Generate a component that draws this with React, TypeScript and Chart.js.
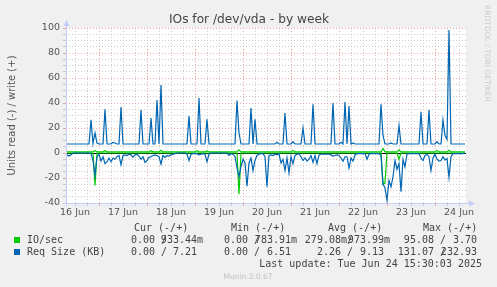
import React, { useEffect, useRef } from 'react';
import { Chart, registerables } from 'chart.js';

Chart.register(...registerables);

// ---------- data ----------
const titleText = 'IOs for /dev/vda - by week';
const yAxisTitle = 'Units read (-) / write (+)';
const dayLabels = ['16 Jun', '17 Jun', '18 Jun', '19 Jun', '20 Jun', '21 Jun', '22 Jun', '23 Jun', '24 Jun'];
// hours counted from 16 Jun 00:00
const rangeStartHour = 7.5;
const rangeEndHour = 207.5;
const firstSampleHour = 8; // hourly samples
const yMin = -40;
const yMax = 100;

// IO/sec, write (+)
const ioWrite = [
  0.9,0.9,0.9,0.9,0.9,0.9,0.9,0.9,0.9,0.9, 0.9,0.9,0.9,0.9,2,0.9,0.9,0.9,0.9,1.8,
  0.9,0.9,0.9,0.9,0.9,0.9,0.9,0.9,0.9,0.9, 0.9,0.9,0.9,0.9,0.9,0.9,0.9,0.9,0.9,0.9,
  0.9,0.9,1.8,0.9,0.9,0.9,0.9,2.2,0.9,0.9, 0.9,0.9,0.9,0.9,0.9,0.9,0.9,0.9,0.9,0.9,
  0.9,0.9,0.9,0.9,0.9,1.8,0.9,0.9,0.9,0.9, 1.6,0.9,0.9,0.9,0.9,0.9,0.9,0.9,0.9,0.9,
  0.9,0.9,0.9,0.9,0.9,0.9,2.5,0.9,0.9,0.9, 0.9,0.9,0.9,0.9,0.9,0.9,0.9,0.9,0.9,0.9,
  0.9,0.9,0.9,0.9,0.9,0.9,0.9,0.9,0.9,0.9, 0.9,0.9,0.9,2,0.9,0.9,0.9,0.9,0.9,0.9,
  0.9,0.9,0.9,0.9,0.9,0.9,0.9,0.9,0.9,0.9, 0.9,0.9,0.9,0.9,0.9,0.9,0.9,0.9,0.9,0.9,
  0.9,0.9,0.9,0.9,0.9,0.9,0.9,0.9,0.9,0.9, 0.9,0.9,0.9,0.9,0.9,0.9,0.9,0.9,3.7,0.9,
  0.9,0.9,0.9,0.9,0.9,0.9,2.5,0.9,0.9,0.9, 0.9,0.9,0.9,0.9,0.9,0.9,0.9,0.9,0.9,0.9,
  0.9,0.9,0.9,0.9,0.9,2,0.9,0.9,0.9,0.9, 0.9,2.2,0.9,0.9,0.9,0.9,0.9,0.9,0.9,0.9,
];
// IO/sec, read (-), magnitudes
const ioRead = [
  0,0,0,0,0,0,0,0,0,0, 0,0,0,0,26,0,0,0,0,0,
  0,0,0,0,0,0,0,0,0,0, 0,0,0,0,0,0,0,0,0,0,
  0,0,0,0,0,0,0,0,0,0, 0,0,0,0,0,0,0,0,0,0,
  0,0,0,0,0,0,0,0,0,0, 0,0,0,0,0,0,0,0,0,0,
  0,0,0,0,0,0,33,0,0,0, 0,0,0,0,0,0,0,0,0,0,
  0,0,0,0,0,0,0,0,0,0, 0,0,0,0,0,0,0,0,0,0,
  0,0,0,0,0,0,0,0,0,0, 0,0,0,0,0,0,0,0,0,0,
  0,0,0,0,0,0,0,0,0,0, 0,0,0,0,0,0,0,0,24.8,24,
  0,0,0,0,0,0,5,0,0,0, 0,0,0,0,0,0,0,0,0,0,
  0,0,0,0,0,0,0,0,0,0, 0,0,0,0,0,0,0,0,0,0,
];
// Req Size (KB), write (+)
const reqWrite = [
  7.2,7.2,7.2,7.2,7.2,7.2,7.2,7.2,7.2,7.2, 7.2,7.2,26.6,7.5,16,8,7.2,7.2,7.2,35,
  7.2,7.2,7.2,8.5,8,7.2,7.2,36.8,7.2,7.2, 7.2,7.2,7.2,7.2,7.2,7.2,7.2,34.4,7.2,7.2,
  7.2,7.2,28,7.2,7.2,42.4,7.2,54.4,7.2,7.2, 7.2,7.2,7.2,7.2,7.2,7.2,7.2,7.2,7.2,7.2,
  7.2,29.6,7.2,7.2,7.2,7.2,44,7.2,7.2,7.2, 27,7.2,7.2,7.2,7.2,7.2,7.2,7.2,7.2,7.2,
  7.2,7.2,7.2,7.2,7.2,42,16,7.2,7.2,7.2, 7.2,7.2,36,7.2,27,7.2,7.2,7.2,7.2,7.2,
  7.2,7.2,7.2,7.2,7.2,8.5,7.2,7.2,7.2,32, 7.2,7.2,7.2,9,7.2,7.2,7.2,7.2,20,7.2,
  7.2,7.2,7.2,39,7.2,7.2,7.2,7.2,7.2,7.2, 7.2,7.2,7.2,40,7.2,7.2,7.2,8.5,7.2,40.8,
  7.2,37.6,7.2,8,7.2,7.2,7.2,7.2,7.2,7.2, 7.2,7.2,7.2,7.2,7.2,7.2,7.2,39,14,7.2,
  7.2,7.2,8,7.2,7.2,7.2,22,7.2,7.2,7.2, 7.2,7.2,7.2,7.2,7.2,7.2,7.2,33,7.2,7.2,
  7.2,34.4,7.2,7.2,7.2,9,7.2,7.2,26.4,14, 11,98.4,7.2,7.2,7.2,7.2,7.2,7.2,7.2,7.2,
];
// Req Size (KB), read (-), magnitudes
const reqRead = [
  1.5,2.5,1.5,0,0,0,0,0,0,0, 0,0,0.5,6,18,3,1,6.4,3,8.5,
  7,4,7,4,5,3,2,9.3,2,1.5, 2,1,1.5,3.5,1.5,1,2.5,5,3,7.5,
  6,3.5,3,2,1.5,2,3,8.8,2,3.5, 2,2.5,1.5,1,0.5,0,0,0,0,0,
  1,6,1,0.5,0.5,0.5,1.5,1,0.5,1, 7,1,0,0,0,0,0,0,0,0,
  0,2,0.5,1,3,12,19,11,5,8, 26.6,8,4,14,6,2,1,0.5,0.5,3,
  27,2,1.5,2,1,1.5,0.5,8,5,14, 4,16,3,8.5,2,1,0.5,3,6,4,
  6.5,5,2,7.5,2,8.5,1.5,1,1,1, 1,1,1.5,2.5,2,1.5,2,4,6.5,3,
  3,12,4,6.5,1.5,0.5,0.5,0.5,0.5,0.5, 5,1,0.5,0.5,0.5,0.5,0.5,2,24.8,28,
  38,22,27,19,6,13,8.5,31,5,11, 1,0.5,0.5,0.5,0.5,0.5,0.5,4,6,2,
  1,3,14,4,1,5,6.5,6,3,5.5, 4.5,19.5,3,0.5,0.5,0.5,0.5,0.5,0.5,0,
];

const legendHeaders = ['Cur (-/+)', 'Min (-/+)', 'Avg (-/+)', 'Max (-/+)'];
const seriesNames = ['IO/sec', 'Req Size (KB)'];
const seriesColors = ['#00cc00', '#0066b3'];
// [read, write] pairs per column (Cur, Min, Avg, Max)
const ioStats = [['0.00 ', '933.44m'], ['0.00 ', '783.91m'], ['279.08m', '973.99m'], ['95.08 ', '3.70 ']];
const reqStats = [['0.00 ', '7.21 '], ['0.00 ', '6.51 '], ['2.26 ', '9.13 '], ['131.07 ', '232.93 ']];
const lastUpdate = 'Last update: Tue Jun 24 15:30:03 2025';
const footer = 'Munin 2.0.67';
const watermark = 'RRDTOOL / TOBI OETIKER';

// ---------- styling ----------
const MINOR = 'rgba(185,185,185,0.75)';
const MAJOR = 'rgba(230,130,130,0.7)';
const AXIS = 'rgb(196,204,250)';
const TEXT = '#555555';
const MONO = '"DejaVu Sans Mono", monospace';

const gridHours: number[] = [];
for (let h = Math.ceil(rangeStartHour / 6) * 6; h <= rangeEndHour; h += 6) gridHours.push(h);

const toPoints = (arr: number[], sign: number) =>
  arr.map((v, j) => ({ x: firstSampleHour + j, y: sign * v }));

const muninPlugin = {
  id: 'munin',
  beforeDraw(chart: any) {
    const { ctx, chartArea: a, width, height } = chart;
    ctx.save();
    ctx.fillStyle = '#f0f0f0';
    ctx.fillRect(0, 0, width, height);
    ctx.fillStyle = '#ffffff';
    ctx.fillRect(a.left, a.top, a.right - a.left, a.bottom - a.top);
    ctx.restore();
  },
  beforeDatasetsDraw(chart: any) {
    const { ctx, chartArea: a } = chart;
    const y0 = Math.floor(chart.scales.y.getPixelForValue(0)) + 0.5;
    ctx.save();
    ctx.strokeStyle = '#000000';
    ctx.lineWidth = 1;
    ctx.beginPath();
    ctx.moveTo(a.left, y0);
    ctx.lineTo(a.right, y0);
    ctx.stroke();
    ctx.restore();
  },
  afterDraw(chart: any) {
    const { ctx, chartArea: a, width } = chart;
    ctx.save();
    // axes with arrows
    const ax = Math.round(a.left) + 0.5;
    const ay = Math.round(a.bottom) + 0.5;
    ctx.strokeStyle = AXIS;
    ctx.fillStyle = AXIS;
    ctx.lineWidth = 1;
    ctx.beginPath();
    ctx.moveTo(ax, ay + 3);
    ctx.lineTo(ax, a.top - 4);
    ctx.moveTo(ax - 3, ay);
    ctx.lineTo(a.right + 5, ay);
    ctx.stroke();
    ctx.beginPath();
    ctx.moveTo(ax, a.top - 8);
    ctx.lineTo(ax - 3, a.top - 2);
    ctx.lineTo(ax + 3, a.top - 2);
    ctx.closePath();
    ctx.fill();
    ctx.beginPath();
    ctx.moveTo(a.right + 9, ay);
    ctx.lineTo(a.right + 3, ay - 3);
    ctx.lineTo(a.right + 3, ay + 3);
    ctx.closePath();
    ctx.fill();

    // title
    ctx.fillStyle = '#444444';
    ctx.font = '12.2px "DejaVu Sans"';
    ctx.textAlign = 'center';
    ctx.textBaseline = 'alphabetic';
    ctx.fillText(titleText, 249, 23);

    // y axis title
    ctx.save();
    ctx.translate(15, (a.top + a.bottom) / 2);
    ctx.rotate(-Math.PI / 2);
    ctx.fillStyle = TEXT;
    ctx.font = '10px "DejaVu Sans"';
    ctx.textAlign = 'center';
    ctx.fillText(yAxisTitle, 0, 0);
    ctx.restore();

    // watermark
    ctx.save();
    ctx.translate(485, 5);
    ctx.rotate(Math.PI / 2);
    ctx.fillStyle = '#cccccc';
    ctx.font = '7.5px "DejaVu Sans"';
    ctx.textAlign = 'left';
    ctx.fillText(watermark, 0, 0);
    ctx.restore();

    // legend
    ctx.font = '10px ' + MONO;
    ctx.fillStyle = '#444444';
    ctx.textAlign = 'left';
    const headerX = [134, 231, 328, 423];
    legendHeaders.forEach((h, i) => ctx.fillText(h, headerX[i], 231));
    const slashEnd = [167, 260, 353, 446];
    const colEnd = [203, 297, 390, 483];
    const rows = [ioStats, reqStats];
    const rowY = [243, 255];
    rows.forEach((stats, r) => {
      ctx.fillStyle = seriesColors[r];
      ctx.fillRect(14, rowY[r] - 6, 6, 6);
      ctx.fillStyle = '#444444';
      ctx.textAlign = 'left';
      ctx.fillText(seriesNames[r], 27, rowY[r]);
      ctx.textAlign = 'right';
      stats.forEach((pair, c) => {
        ctx.fillText(pair[0] + '/', slashEnd[c], rowY[r]);
        ctx.fillText(pair[1], colEnd[c], rowY[r]);
      });
    });
    ctx.textAlign = 'right';
    ctx.fillText(lastUpdate, 482, 267);

    ctx.textAlign = 'center';
    ctx.fillStyle = '#c0c0c0';
    ctx.font = '7.5px "DejaVu Sans"';
    ctx.fillText(footer, 248, 279);
    ctx.restore();
  },
};

export default function App() {
  const ref = useRef<HTMLCanvasElement>(null);
  useEffect(() => {
    document.body.style.margin = '0';
    Chart.defaults.font.family = '"DejaVu Sans"';
    const canvas = ref.current!;
    const chart = new Chart(canvas, {
      type: 'line',
      data: {
        datasets: [
          { label: 'Req Size write', data: toPoints(reqWrite, 1), borderColor: '#0066b3', borderWidth: 1.2, pointRadius: 0, order: 0 },
          { label: 'Req Size read', data: toPoints(reqRead, -1), borderColor: '#0066b3', borderWidth: 1.2, pointRadius: 0, order: 1 },
          { label: 'IO/sec write', data: toPoints(ioWrite, 1), borderColor: '#00cc00', borderWidth: 1.2, pointRadius: 0, order: 2 },
          { label: 'IO/sec read', data: toPoints(ioRead, -1), borderColor: '#00cc00', borderWidth: 1.2, pointRadius: 0, order: 3 },
        ],
      },
      options: {
        animation: false,
        responsive: false,
        devicePixelRatio: 1,
        layout: { padding: { left: 0, right: 31, top: 28, bottom: 0 } },
        plugins: { legend: { display: false }, title: { display: false }, tooltip: { enabled: false } },
        elements: { line: { tension: 0 } },
        scales: {
          x: {
            type: 'linear',
            min: rangeStartHour,
            max: rangeEndHour,
            afterBuildTicks: (s: any) => {
              s.ticks = gridHours.map((v) => ({ value: v }));
            },
            afterFit: (s: any) => {
              s.height = 84;
            },
            ticks: {
              autoSkip: false,
              maxRotation: 0,
              minRotation: 0,
              padding: 1,
              color: TEXT,
              font: { size: 9.5 },
              callback: (v: any) => {
                const k = (Number(v) - 12) / 24;
                return Number.isInteger(k) && dayLabels[k] ? dayLabels[k] : '';
              },
            },
            grid: {
              color: (c: any) => (c.tick && c.tick.value % 24 === 0 ? MAJOR : MINOR),
              tickLength: 3,
              lineWidth: 1,
            },
            border: { display: false, dash: [1, 2] },
          },
          y: {
            type: 'linear',
            min: yMin,
            max: yMax,
            afterFit: (s: any) => {
              s.width = 66;
            },
            ticks: {
              stepSize: 5,
              autoSkip: false,
              padding: 3,
              color: TEXT,
              font: { size: 9.5 },
              callback: (v: any) => (Number(v) % 20 === 0 ? String(v) : ''),
            },
            grid: {
              color: (c: any) => (c.tick && c.tick.value % 20 === 0 ? MAJOR : MINOR),
              tickLength: 3,
              lineWidth: 1,
            },
            border: { display: false, dash: [1, 2] },
          },
        },
      },
      plugins: [muninPlugin],
    } as any);
    return () => chart.destroy();
  }, []);
  return <canvas ref={ref} width={497} height={287} style={{ display: 'block', width: 497, height: 287 }} />;
}
